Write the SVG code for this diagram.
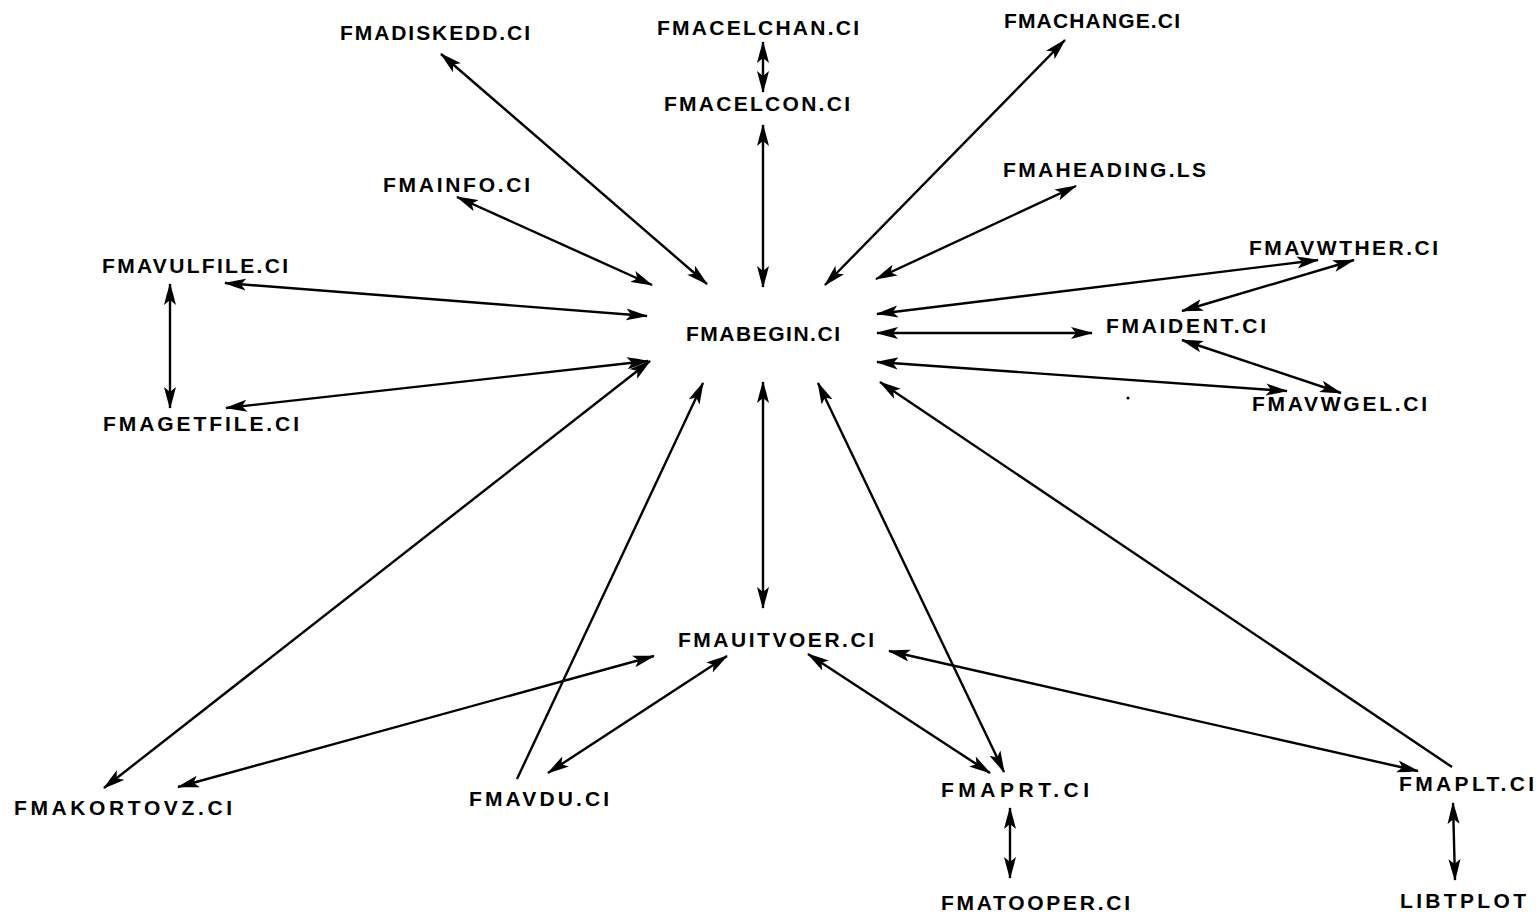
<svg xmlns="http://www.w3.org/2000/svg" width="1540" height="916" viewBox="0 0 1540 916">
<style>
text{font-family:"Liberation Sans",Arial,sans-serif;font-weight:bold;font-size:21px;fill:#000}
.c line{stroke:#000;stroke-width:2.4;fill:none}
.b{marker-start:url(#ah);marker-end:url(#ah)}
.e{marker-end:url(#ah)}
.s{marker-start:url(#ah)}
</style>
<defs>
<marker id="ah" viewBox="0 0 22 13" refX="21" refY="6.5" markerWidth="22" markerHeight="13" markerUnits="userSpaceOnUse" orient="auto-start-reverse">
<path d="M0,0.5 Q10,3 22,6.5 Q10,10 0,12.5 L5,6.5 z" fill="#000"/>
</marker>
</defs>
<rect width="1540" height="916" fill="#fff"/>
<g class="c" id="connectors">
<line class="b" x1="441" y1="54" x2="707" y2="284"/>
<line class="b" x1="763" y1="42" x2="763" y2="92"/>
<line class="b" x1="763" y1="125" x2="763" y2="287"/>
<line class="b" x1="1065" y1="40" x2="825" y2="285"/>
<line class="b" x1="457" y1="197" x2="652" y2="285"/>
<line class="b" x1="1076" y1="186" x2="876" y2="279"/>
<line class="b" x1="225" y1="283" x2="647" y2="316"/>
<line class="b" x1="170" y1="284" x2="170" y2="408"/>
<line class="b" x1="226" y1="408" x2="648" y2="361"/>
<line class="b" x1="877" y1="314" x2="1318" y2="260"/>
<line class="b" x1="1354" y1="260" x2="1182" y2="311"/>
<line class="b" x1="877" y1="333" x2="1092" y2="333"/>
<line class="b" x1="1182" y1="340" x2="1341" y2="393"/>
<line class="b" x1="877" y1="362" x2="1287" y2="391"/>
<line class="b" x1="650" y1="361" x2="104" y2="788"/>
<line class="b" x1="654" y1="656" x2="178" y2="787"/>
<line class="e" x1="517" y1="779" x2="703" y2="383"/>
<line class="b" x1="727" y1="656" x2="548" y2="773"/>
<line class="b" x1="763" y1="382" x2="763" y2="608"/>
<line class="b" x1="808" y1="654" x2="990" y2="773"/>
<line class="b" x1="818" y1="383" x2="1004" y2="772"/>
<line class="b" x1="889" y1="651" x2="1418" y2="771"/>
<line class="s" x1="880" y1="382" x2="1452" y2="767"/>
<line class="b" x1="1010" y1="808" x2="1010" y2="878"/>
<line class="b" x1="1453" y1="803" x2="1455" y2="880"/>
</g>
<circle cx="1128" cy="398" r="1.5" fill="#000"/>
<g id="n-diskedd"><text x="340" y="40" textLength="190" lengthAdjust="spacing">FMADISKEDD.CI</text></g>
<g id="n-celchan"><text x="657" y="35" textLength="202" lengthAdjust="spacing">FMACELCHAN.CI</text></g>
<g id="n-change"><text x="1004" y="28" textLength="176" lengthAdjust="spacing">FMACHANGE.CI</text></g>
<g id="n-celcon"><text x="664" y="111" textLength="186" lengthAdjust="spacing">FMACELCON.CI</text></g>
<g id="n-info"><text x="383" y="192" textLength="147" lengthAdjust="spacing">FMAINFO.CI</text></g>
<g id="n-heading"><text x="1003" y="177" textLength="203" lengthAdjust="spacing">FMAHEADING.LS</text></g>
<g id="n-vwther"><text x="1249" y="255" textLength="189" lengthAdjust="spacing">FMAVWTHER.CI</text></g>
<g id="n-vulfile"><text x="102" y="273" textLength="186" lengthAdjust="spacing">FMAVULFILE.CI</text></g>
<g id="n-begin"><text x="686" y="341" textLength="154" lengthAdjust="spacing">FMABEGIN.CI</text></g>
<g id="n-ident"><text x="1106" y="333" textLength="160" lengthAdjust="spacing">FMAIDENT.CI</text></g>
<g id="n-vwgel"><text x="1252" y="411" textLength="175" lengthAdjust="spacing">FMAVWGEL.CI</text></g>
<g id="n-getfile"><text x="103" y="431" textLength="196" lengthAdjust="spacing">FMAGETFILE.CI</text></g>
<g id="n-uitvoer"><text x="678" y="647" textLength="196" lengthAdjust="spacing">FMAUITVOER.CI</text></g>
<g id="n-kortovz"><text x="14" y="815" textLength="218" lengthAdjust="spacing">FMAKORTOVZ.CI</text></g>
<g id="n-vdu"><text x="469" y="806" textLength="140" lengthAdjust="spacing">FMAVDU.CI</text></g>
<g id="n-prt"><text x="941" y="797" textLength="148" lengthAdjust="spacing">FMAPRT.CI</text></g>
<g id="n-plt"><text x="1399" y="791" textLength="135" lengthAdjust="spacing">FMAPLT.CI</text></g>
<g id="n-tooper"><text x="941" y="910" textLength="189" lengthAdjust="spacing">FMATOOPER.CI</text></g>
<g id="n-libtplot"><text x="1400" y="908" textLength="126" lengthAdjust="spacing">LIBTPLOT</text></g>
</svg>
